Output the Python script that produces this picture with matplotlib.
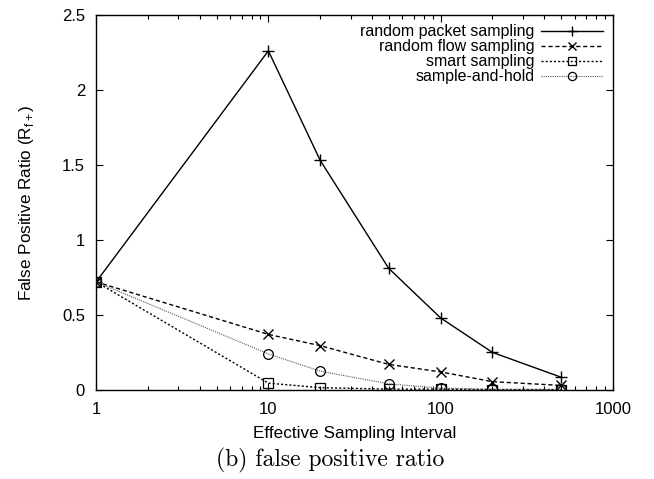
import matplotlib.pyplot as plt
from matplotlib.ticker import LogLocator, NullFormatter, FixedLocator

# Data
intervals = [1, 10, 20, 50, 100, 200, 500]
packet = [0.72, 2.26, 1.53, 0.81, 0.48, 0.25, 0.085]
flow = [0.72, 0.37, 0.295, 0.17, 0.12, 0.055, 0.03]
smart = [0.72, 0.045, 0.015, 0.005, 0.005, 0.002, 0.002]
hold = [0.72, 0.24, 0.125, 0.04, 0.012, 0.005, 0.003]

x_ticks = [1, 10, 100, 1000]
x_labels = ['1', '10', '100', '1000']
y_ticks = [0, 0.5, 1, 1.5, 2, 2.5]
y_labels = ['0', '0.5', '1', '1.5', '2', '2.5']

plt.rcParams['font.family'] = ['Liberation Sans', 'DejaVu Sans']

fig = plt.figure(figsize=(6.54, 4.79), dpi=100)
ax = fig.add_axes([0.147, 0.186, 0.790, 0.783])

ax.plot(intervals, packet, color='black', lw=1.0, ls='-', marker='+', ms=9,
        mew=1.0, label='random packet sampling')
ax.plot(intervals, flow, color='black', lw=1.0, ls=(0, (3, 2)), marker='x', ms=7,
        mew=1.0, label='random flow sampling')
ax.plot(intervals, smart, color='black', lw=1.0, ls=(0, (1.5, 1.5)), marker='s', ms=7,
        mew=0.9, mfc='none', label='smart sampling')
ax.plot(intervals, hold, color='#555555', lw=0.8, ls=(0, (1, 1)), marker='o', ms=7,
        mew=0.9, mfc='none', mec='black', label='sample-and-hold')

ax.set_xscale('log')
ax.set_xlim(1, 1000)
ax.set_ylim(0, 2.5)
ax.xaxis.set_major_locator(FixedLocator(x_ticks))
ax.set_xticklabels(x_labels)
ax.xaxis.set_minor_locator(LogLocator(base=10, subs=range(2, 10)))
ax.xaxis.set_minor_formatter(NullFormatter())
ax.set_yticks(y_ticks)
ax.set_yticklabels(y_labels)

ax.tick_params(which='both', direction='in', top=True, right=True, labelsize=12)
ax.tick_params(axis='x', pad=9)
ax.tick_params(axis='y', pad=8)
ax.tick_params(which='major', length=5, width=0.8)
ax.tick_params(which='minor', length=3, width=0.8)
for s in ax.spines.values():
    s.set_linewidth(1.0)

ax.set_xlabel('Effective Sampling Interval', fontsize=12.3, labelpad=6)
ax.set_ylabel('False Positive Ratio (R$_{\\mathregular{f+}}$)', fontsize=12.3, labelpad=19)

# legend: text on the left, line sample on the right
leg = ax.legend(loc='upper right', frameon=False, markerfirst=False, fontsize=11.5,
                handlelength=3.9, labelspacing=0.0, borderaxespad=0.4, borderpad=0.2,
                handletextpad=0.4, markerscale=0.85)

fig.text(0.505, 0.038, '(b) false positive ratio', family='cmr10', fontsize=17,
         ha='center', va='center')

fig.savefig('out.png', dpi=100)
